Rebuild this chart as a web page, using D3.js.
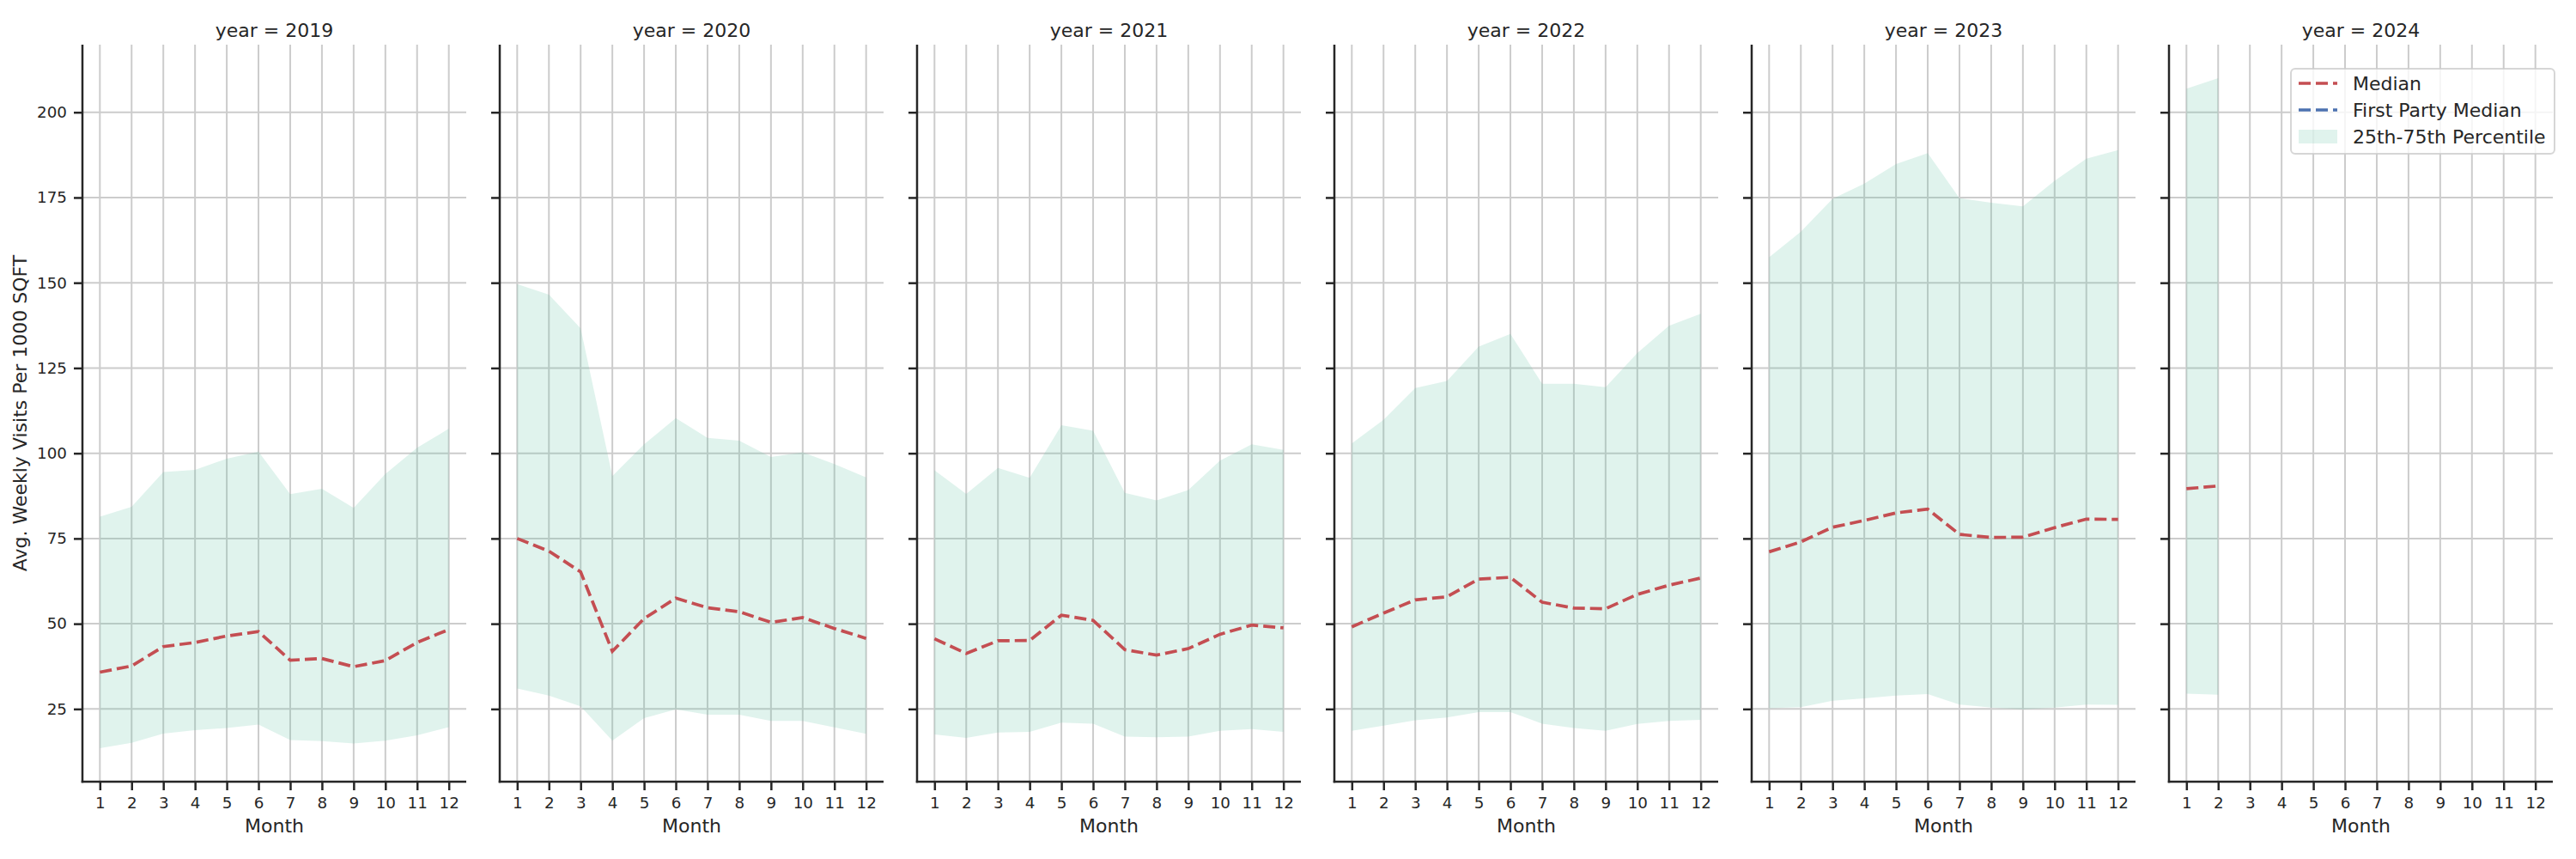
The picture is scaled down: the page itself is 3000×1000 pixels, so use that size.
<!DOCTYPE html>
<html>
<head>
<meta charset="utf-8">
<script src="https://cdn.jsdelivr.net/npm/d3@7"></script>
<style>
  body { margin: 0; background: #fff; }
  svg text { font-family: "DejaVu Sans", sans-serif; fill: #262626; }
</style>
</head>
<body>
<div id="chart"></div>
<script>
// Months on the x axis and the years of the facets
const months = [1, 2, 3, 4, 5, 6, 7, 8, 9, 10, 11, 12];
const years = [2019, 2020, 2021, 2022, 2023, 2024];
const yTicks = [25, 50, 75, 100, 125, 150, 175, 200];

// Median per month
const median2019 = [35.8, 37.6, 43.3, 44.5, 46.4, 47.7, 39.3, 39.8, 37.4, 39.2, 44.5, 48.3];
const median2020 = [75.0, 71.3, 65.2, 41.9, 51.5, 57.5, 54.7, 53.5, 50.4, 51.8, 48.6, 45.7];
const median2021 = [45.6, 41.3, 45.0, 45.1, 52.5, 51.0, 42.4, 40.8, 42.7, 46.9, 49.6, 48.8];
const median2022 = [49.1, 53.1, 57.0, 57.9, 63.1, 63.6, 56.3, 54.6, 54.4, 58.6, 61.3, 63.4];
const median2023 = [71.1, 74.0, 78.3, 80.3, 82.5, 83.6, 76.2, 75.3, 75.4, 78.2, 80.7, 80.6];
const median2024 = [89.6, 90.4];

// 25th percentile
const p25_2019 = [13.5, 15.1, 17.8, 18.8, 19.4, 20.4, 15.9, 15.6, 14.9, 15.7, 17.3, 19.7];
const p25_2020 = [31.0, 28.9, 25.8, 15.7, 22.3, 24.9, 23.3, 23.3, 21.5, 21.5, 19.6, 17.7];
const p25_2021 = [17.5, 16.5, 18.1, 18.3, 21.0, 20.7, 16.9, 16.7, 16.9, 18.6, 19.1, 18.3];
const p25_2022 = [18.6, 20.1, 21.7, 22.5, 24.1, 24.1, 20.7, 19.4, 18.6, 20.6, 21.5, 21.8];
const p25_2023 = [25.2, 25.5, 27.4, 28.1, 28.9, 29.4, 26.3, 25.4, 24.9, 25.4, 26.3, 26.2];
const p25_2024 = [29.5, 29.2];

// 75th percentile
const p75_2019 = [81.4, 84.3, 94.5, 95.1, 98.4, 100.5, 88.0, 89.6, 84.0, 93.9, 101.6, 107.2];
const p75_2020 = [149.6, 146.5, 136.6, 93.3, 102.6, 110.3, 104.5, 103.7, 98.9, 100.3, 96.8, 92.9];
const p75_2021 = [95.0, 88.1, 95.7, 92.8, 108.2, 106.6, 88.4, 86.2, 89.2, 97.8, 102.6, 101.0];
const p75_2022 = [102.9, 109.8, 119.1, 121.2, 131.3, 135.0, 120.4, 120.4, 119.4, 129.4, 137.4, 140.9];
const p75_2023 = [157.5, 165.0, 174.6, 179.1, 184.8, 188.0, 174.8, 173.5, 172.4, 179.9, 186.4, 188.9];
const p75_2024 = [206.9, 210.0];

const medians = [median2019, median2020, median2021, median2022, median2023, median2024];
const lows = [p25_2019, p25_2020, p25_2021, p25_2022, p25_2023, p25_2024];
const highs = [p75_2019, p75_2020, p75_2021, p75_2022, p75_2023, p75_2024];

const legendItems = ['Median', 'First Party Median', '25th-75th Percentile'];

const W = 3000, H = 1000;
const panelLeft = 96, panelStep = 486, panelW = 447;
const plotTop = 52, plotBottom = 910;
const red = '#c44e52', blue = '#4c72b0', fillColor = 'rgba(102,194,165,0.2)';

// build one table per facet
const facets = years.map((yr, i) => ({
    year: yr,
    rows: medians[i].map((m, j) => ({ month: months[j], median: m, low: lows[i][j], high: highs[i][j] }))
}));

const allVals = lows.flat().concat(highs.flat());
const yMin = d3.min(allVals), yMax = d3.max(allVals);
const pad = (yMax - yMin) * 0.05;

const yScale = d3.scaleLinear()
    .domain([yMin - pad, yMax + pad])
    .range([plotBottom, plotTop]);

const xPad = (d3.max(months) - d3.min(months)) * 0.05;
const xScale = d3.scaleLinear()
    .domain([d3.min(months) - xPad, d3.max(months) + xPad])
    .range([0, panelW]);

const svg = d3.select('#chart')
    .append('svg')
    .attr('width', W)
    .attr('height', H);

facets.forEach((f, i) => {
    const g = svg.append('g')
        .attr('transform', 'translate(' + (panelLeft + i * panelStep) + ',0)');

    // grid
    g.append('g').selectAll('line')
        .data(yTicks).enter().append('line')
        .attr('x1', 0).attr('x2', panelW)
        .attr('y1', d => yScale(d)).attr('y2', d => yScale(d))
        .attr('stroke', '#cccccc').attr('stroke-width', 2);
    g.append('g').selectAll('line')
        .data(months).enter().append('line')
        .attr('x1', d => xScale(d)).attr('x2', d => xScale(d))
        .attr('y1', plotTop).attr('y2', plotBottom)
        .attr('stroke', '#cccccc').attr('stroke-width', 2);

    // 25th-75th band
    const area = d3.area()
        .x(d => xScale(d.month))
        .y0(d => yScale(d.low))
        .y1(d => yScale(d.high));
    g.append('path')
        .datum(f.rows)
        .attr('d', area)
        .attr('fill', fillColor);

    // median line
    const line = d3.line()
        .x(d => xScale(d.month))
        .y(d => yScale(d.median));
    g.append('path')
        .datum(f.rows)
        .attr('d', line)
        .attr('fill', 'none')
        .attr('stroke', red)
        .attr('stroke-width', 3.7)
        .attr('stroke-dasharray', '14,6');

    // axes
    const yAxis = d3.axisLeft(yScale)
        .tickValues(yTicks)
        .tickSize(10)
        .tickPadding(8)
        .tickFormat(i === 0 ? d3.format('d') : '');
    const gy = g.append('g').call(yAxis);

    const xAxis = d3.axisBottom(xScale)
        .tickValues(months)
        .tickSize(10)
        .tickPadding(8)
        .tickFormat(d3.format('d'));
    const gx = g.append('g')
        .attr('transform', 'translate(0,' + plotBottom + ')')
        .call(xAxis);

    [gx, gy].forEach(a => {
        a.select('.domain').remove();
        a.selectAll('.tick line').attr('stroke', '#262626').attr('stroke-width', 2.5);
        a.selectAll('.tick text').attr('font-size', 18.3).attr('fill', '#262626');
    });

    // spines
    g.append('line')
        .attr('x1', 0).attr('x2', 0).attr('y1', plotTop).attr('y2', plotBottom + 1.25)
        .attr('stroke', '#262626').attr('stroke-width', 2.5);
    g.append('line')
        .attr('x1', -1.25).attr('x2', panelW).attr('y1', plotBottom).attr('y2', plotBottom)
        .attr('stroke', '#262626').attr('stroke-width', 2.5);

    // title and x label
    g.append('text')
        .attr('x', panelW / 2).attr('y', 43)
        .attr('text-anchor', 'middle')
        .attr('font-size', 22)
        .text('year = ' + f.year);
    g.append('text')
        .attr('x', panelW / 2).attr('y', 969)
        .attr('text-anchor', 'middle')
        .attr('font-size', 22)
        .text('Month');
});

// y label
svg.append('text')
    .attr('transform', 'translate(31,' + ((plotTop + plotBottom) / 2) + ') rotate(-90)')
    .attr('text-anchor', 'middle')
    .attr('font-size', 22)
    .text('Avg. Weekly Visits Per 1000 SQFT');

// legend in the last panel
const lg = svg.append('g').attr('transform', 'translate(2668,80)');
lg.append('rect')
    .attr('width', 307).attr('height', 99)
    .attr('rx', 5)
    .attr('fill', 'rgba(255,255,255,0.8)')
    .attr('stroke', 'rgba(204,204,204,0.8)')
    .attr('stroke-width', 2);

legendItems.forEach((name, k) => {
    const cy = 17 + k * 31;
    if (k < 2) {
        lg.append('line')
            .attr('x1', 9).attr('x2', 54).attr('y1', cy).attr('y2', cy)
            .attr('stroke', k === 0 ? red : blue)
            .attr('stroke-width', 3.7)
            .attr('stroke-dasharray', '14,6');
    } else {
        lg.append('rect')
            .attr('x', 9).attr('y', cy - 8).attr('width', 45).attr('height', 16)
            .attr('fill', fillColor);
    }
    lg.append('text')
        .attr('x', 72).attr('y', cy + 8)
        .attr('font-size', 22)
        .text(name);
});
</script>
</body>
</html>
